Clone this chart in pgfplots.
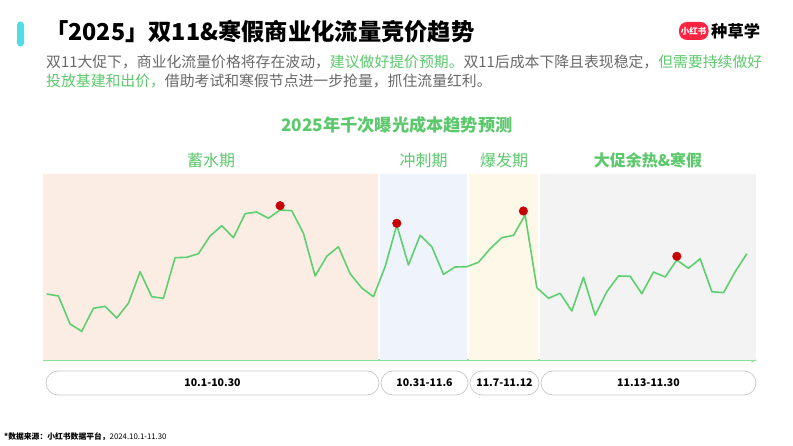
\documentclass[border=0pt]{standalone}
\usepackage{fontspec}
\setmainfont{Noto Sans CJK SC}
\usepackage{pgfplots}
\pgfplotsset{compat=1.18}
\usetikzlibrary{arrows.meta}

\definecolor{linegreen}{RGB}{94,207,112}
\definecolor{txtgreen}{RGB}{92,200,108}
\definecolor{axgreen}{RGB}{140,222,150}
\definecolor{dotred}{RGB}{200,0,0}
\definecolor{bgpink}{RGB}{251,237,228}
\definecolor{bgblue}{RGB}{239,244,252}
\definecolor{bgyellow}{RGB}{254,248,232}
\definecolor{bggray}{RGB}{243,243,243}
\definecolor{txtgray}{RGB}{105,105,105}
\definecolor{teal}{RGB}{77,221,227}
\definecolor{logored}{RGB}{255,36,66}
\definecolor{boxgray}{RGB}{200,200,200}

\newcommand{\fs}[1]{\fontsize{#1}{#1}\selectfont}

\begin{document}
\begin{tikzpicture}
  \begin{scope}[x=1pt,y=-1pt]
  \fill[white] (0,0) rectangle (793,446);
  \useasboundingbox (0,0) rectangle (793,446);

  % header
  \fill[teal, rounded corners=3.5pt] (17,21.5) rectangle (24,46.5);
  \node[anchor=west, inner sep=0] at (45,32)
    {\fs{23.3}\bfseries 「2025」双11\&寒假商业化流量竞价趋势};
  \node[anchor=west, inner sep=0] at (46,62) {\fs{14.85}%
    \textcolor{txtgray}{双11大促下，商业化流量价格将存在波动，}%
    \textcolor{txtgreen}{建议做好提价预期。}%
    \textcolor{txtgray}{双11后成本下降且表现稳定，}%
    \textcolor{txtgreen}{但需要持续做好}};
  \node[anchor=west, inner sep=0] at (46,81) {\fs{14.85}%
    \textcolor{txtgreen}{投放基建和出价，}%
    \textcolor{txtgray}{借助考试和寒假节点进一步抢量，抓住流量红利。}};

  % logo
  \fill[logored, rounded corners=8pt] (679,22) rectangle (708.5,40);
  \node[text=white, inner sep=0] at (693.7,31) {\fs{8.5}\bfseries 小红书};
  \node[anchor=west, inner sep=0] at (711,31) {\fs{16.3}\bfseries 种草学};

  % chart title and phases
  \node[text=txtgreen, inner sep=0] at (397,125) {\fs{17.2}\bfseries 2025年千次曝光成本趋势预测};
  \node[text=txtgreen, inner sep=0] at (211,160) {\fs{16}蓄水期};
  \node[text=txtgreen, inner sep=0] at (423.5,160) {\fs{16}冲刺期};
  \node[text=txtgreen, inner sep=0] at (504,160) {\fs{16}爆发期};
  \node[text=txtgreen, inner sep=0] at (648,160) {\fs{16}\bfseries 大促余热\&寒假};
  \end{scope}

  \begin{axis}[
      at={(43pt,-360pt)}, anchor=south west,
      scale only axis,
      width=714pt, height=186pt,
      xmin=-0.32, xmax=60.87,
      ymin=0, ymax=186,
      axis x line=bottom, axis y line=none,
      xtick=\empty, ytick=\empty,
      axis line style={draw=axgreen, line width=1.2pt, -{Stealth[length=6pt,width=5pt]}},
      clip=false,
    ]
    % phase backgrounds
    \addplot[draw=none, fill=bgpink] coordinates {(-0.32,0) (-0.32,186) (28.41,186) (28.41,0)} \closedcycle;
    \addplot[draw=none, fill=bgblue] coordinates {(28.56,0) (28.56,186) (36.02,186) (36.02,0)} \closedcycle;
    \addplot[draw=none, fill=bgyellow] coordinates {(36.19,0) (36.19,186) (42.10,186) (42.10,0)} \closedcycle;
    \addplot[draw=none, fill=bggray] coordinates {(42.27,0) (42.27,186) (60.78,186) (60.78,0)} \closedcycle;

    % daily CPM index, 10.1 - 11.30
    \addplot[linegreen, line width=1.6pt, line join=round] coordinates {
      (0,66) (1,64) (2,36) (3,28.7) (4,51.7) (5,53.7) (6,42) (7,56.7)
      (8,88.3) (9,63.3) (10,61.7) (11,102.3) (12,102.7) (13,106.3) (14,124)
      (15,134.3) (16,122.3) (17,146.3) (18,148) (19,141.7) (20,150) (21,149.3)
      (22,126.7) (23,84) (24,103.7) (25,113.3) (26,86.3) (27,72) (28,63.3)
      (29,93.3) (30,135) (31,95) (32,124.7) (33,113.3) (34,85.7) (35,93)
      (36,93.3) (37,97.7) (38,111.3) (39,122.3) (40,124.7) (41,145) (42,72.3)
      (43,61.7) (44,66.7) (45,49) (46,82.7) (47,44.7) (48,68.3) (49,84)
      (50,83.7) (51,66.3) (52,88) (53,83) (54,100) (55,91.7) (56,101.3)
      (57,68.3) (58,67.3) (59,88.3) (60,106.3)
    };
    % peaks
    \addplot[only marks, mark=*, mark size=4.3pt, color=dotred] coordinates {
      (20,154.3) (30,136.7) (40.85,149) (54,103.7)
    };
  \end{axis}

  \begin{scope}[x=1pt,y=-1pt]
  % date boxes
  \foreach \a/\b/\t in {46/379/10.1-10.30, 381/468/10.31-11.6, 470/539/11.7-11.12, 541/756/11.13-11.30}{
    \draw[boxgray, fill=white, line width=0.7pt, rounded corners=12pt] (\a,371) rectangle (\b,395);
    \node[inner sep=0] at ({(\a+\b)/2},383) {\fs{10.5}\bfseries \t};
  }

  % source note
  \node[anchor=west, inner sep=0] at (4,437) {\fs{7.8}\textbf{*数据来源：小红书数据平台，}2024.10.1-11.30};
  \end{scope}
\end{tikzpicture}
\end{document}
